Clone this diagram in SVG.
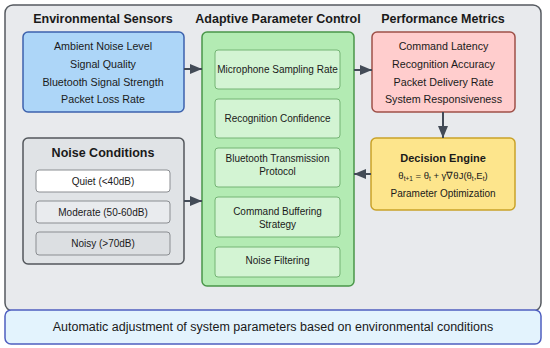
<svg xmlns="http://www.w3.org/2000/svg" width="550" height="348" viewBox="0 0 550 348">
<defs>
<marker id="ah" viewBox="0 0 12 10" refX="12" refY="5" markerWidth="6" markerHeight="5" markerUnits="strokeWidth" orient="auto">
<path d="M0,0 L12,5 L0,10 z" fill="#434b57"/>
</marker>
<style>
text{font-family:"Liberation Sans",Arial,sans-serif;fill:#1a1a1a;text-anchor:middle}
.t{font-size:12.5px;font-weight:bold}
.b{font-size:10.7px}
.s{font-size:10px}
.inner{fill:#d3f4d3;stroke:#74b474;stroke-width:1}
.nb{stroke:#8a8d91;stroke-width:1}
.con{stroke:#434b57;stroke-width:2;fill:none;marker-end:url(#ah)}
</style>
</defs>
<rect x="5" y="5" width="536" height="306" rx="8" fill="#e8eaed" stroke="#555a60" stroke-width="1.5"/>
<g id="env">
<text class="t" x="103" y="23">Environmental Sensors</text>
<rect x="23" y="32" width="161" height="80" rx="5" fill="#add6f8" stroke="#3d62ad" stroke-width="1.5"/>
<text class="b" x="103" y="50">Ambient Noise Level</text>
<text class="b" x="103" y="68">Signal Quality</text>
<text class="b" x="103" y="86">Bluetooth Signal Strength</text>
<text class="b" x="103" y="103">Packet Loss Rate</text>
</g>
<g id="noise">
<rect x="23" y="138" width="161" height="126" rx="5" fill="#e0e3e6" stroke="#53575c" stroke-width="1.5"/>
<text class="t" x="103" y="157">Noise Conditions</text>
<rect class="nb" x="36" y="170" width="134" height="22" rx="3" fill="#ffffff"/>
<text class="s" x="103" y="185">Quiet (&lt;40dB)</text>
<rect class="nb" x="36" y="201" width="134" height="22" rx="3" fill="#e9ebee"/>
<text class="s" x="103" y="216">Moderate (50-60dB)</text>
<rect class="nb" x="36" y="232" width="134" height="23" rx="3" fill="#dcdfe2"/>
<text class="s" x="103" y="247">Noisy (&gt;70dB)</text>
</g>
<g id="apc">
<text class="t" x="278" y="23">Adaptive Parameter Control</text>
<rect x="202" y="32" width="152" height="254" rx="5" fill="#b3ebb3" stroke="#4a974a" stroke-width="1.5"/>
<rect class="inner" x="215" y="50" width="125" height="39" rx="3"/>
<text class="s" x="277.5" y="73">Microphone Sampling Rate</text>
<rect class="inner" x="215" y="99" width="125" height="39" rx="3"/>
<text class="s" x="277.5" y="122">Recognition Confidence</text>
<rect class="inner" x="215" y="148" width="125" height="39" rx="3"/>
<text class="s" x="277.5" y="162">Bluetooth Transmission</text>
<text class="s" x="277.5" y="175">Protocol</text>
<rect class="inner" x="215" y="197" width="125" height="40" rx="3"/>
<text class="s" x="277.5" y="215">Command Buffering</text>
<text class="s" x="277.5" y="228">Strategy</text>
<rect class="inner" x="215" y="247" width="125" height="30" rx="3"/>
<text class="s" x="277.5" y="264">Noise Filtering</text>
</g>
<g id="perf">
<text class="t" x="443" y="23">Performance Metrics</text>
<rect x="372" y="32" width="143" height="80" rx="5" fill="#ffcdcd" stroke="#9e5048" stroke-width="1.5"/>
<text class="b" x="443.5" y="50">Command Latency</text>
<text class="b" x="443.5" y="68">Recognition Accuracy</text>
<text class="b" x="443.5" y="86">Packet Delivery Rate</text>
<text class="b" x="443.5" y="103">System Responsiveness</text>
</g>
<g id="decision">
<rect x="371" y="138" width="144" height="72" rx="5" fill="#fde58c" stroke="#c9a229" stroke-width="1.5"/>
<text x="443" y="162" style="font-size:11px;font-weight:bold">Decision Engine</text>
<text x="443" y="179" style="font-size:9.5px">θ<tspan font-size="6.5" dy="2">t+1</tspan><tspan dy="-2"> = θ</tspan><tspan font-size="6.5" dy="2">t</tspan><tspan dy="-2"> + γ∇θJ(θ</tspan><tspan font-size="6.5" dy="2">t</tspan><tspan dy="-2">,E</tspan><tspan font-size="6.5" dy="2">t</tspan><tspan dy="-2">)</tspan></text>
<text class="s" x="443" y="197">Parameter Optimization</text>
</g>
<g id="connectors">
<line class="con" x1="184" y1="69" x2="202" y2="69"/>
<line class="con" x1="354" y1="70" x2="372" y2="70"/>
<line class="con" x1="443" y1="112" x2="443" y2="138"/>
<line class="con" x1="371" y1="174" x2="354" y2="174"/>
<line class="con" x1="184" y1="201" x2="202" y2="201"/>
</g>
<g id="footer">
<rect x="5" y="310" width="536" height="34" rx="6" fill="#e3f3fd" stroke="#4f5fc0" stroke-width="1.5"/>
<text x="273" y="331" style="font-size:12.5px">Automatic adjustment of system parameters based on environmental conditions</text>
</g>
</svg>
